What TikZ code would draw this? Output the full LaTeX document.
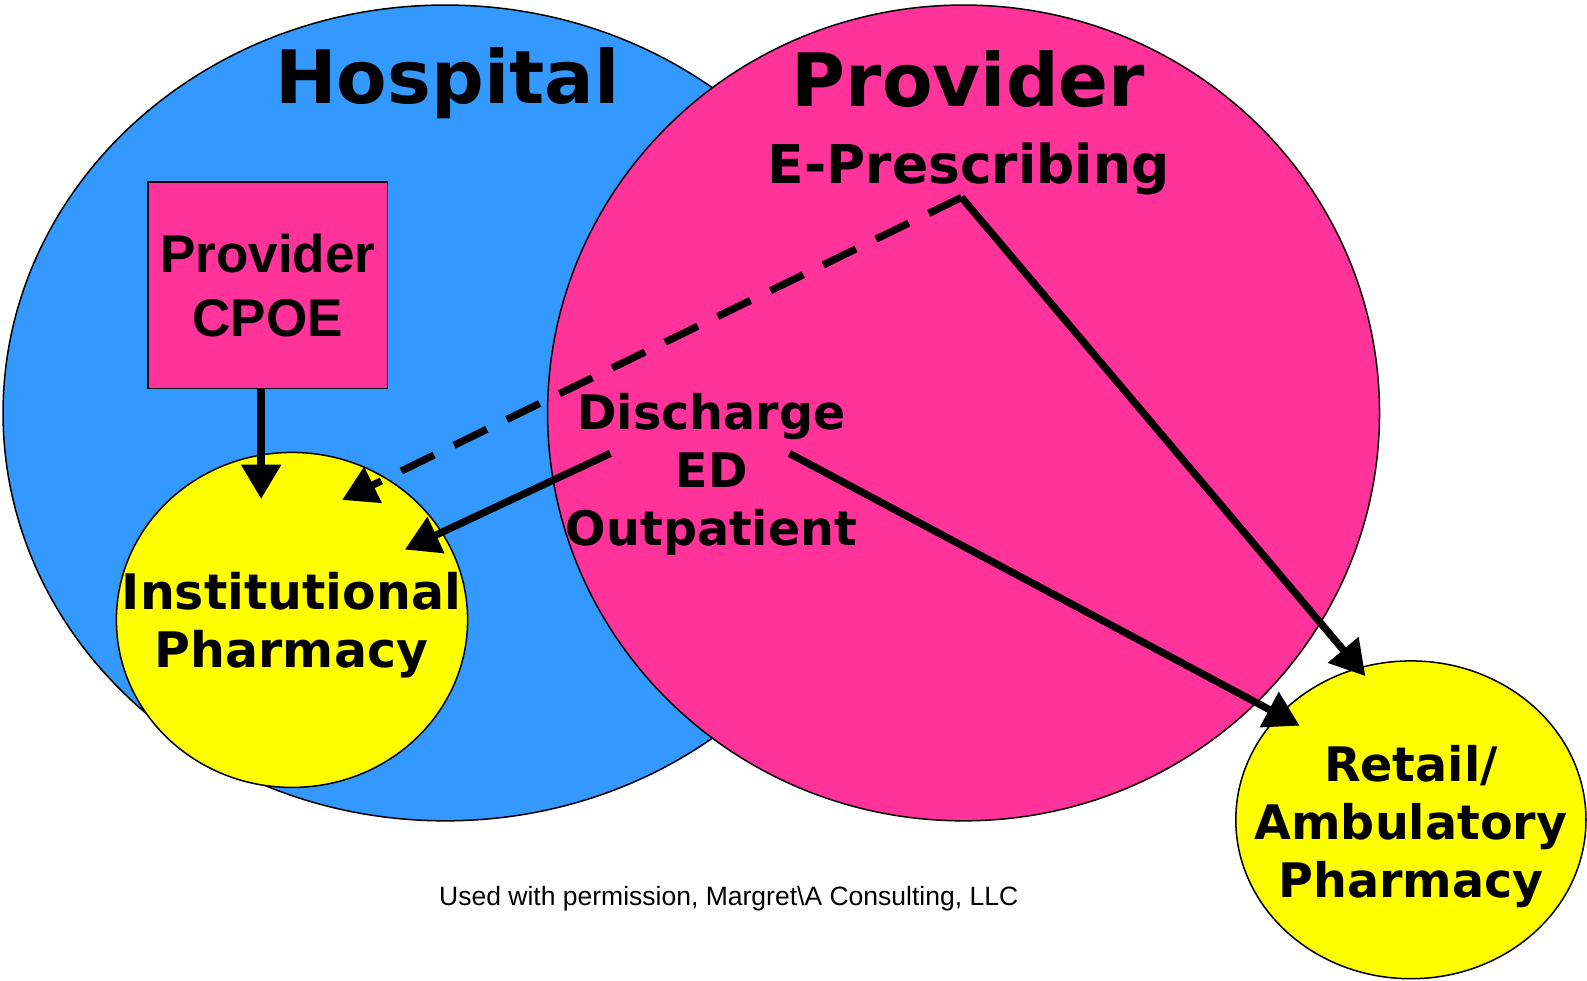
\documentclass[tikz,border=0pt]{standalone}
\usepackage{fontspec}
\setmainfont{DejaVu Sans}
\newfontfamily\arialfont{Liberation Sans}
\usepackage{xcolor}
\usetikzlibrary{shapes.geometric,arrows.meta}
\definecolor{hospblue}{HTML}{3399FF}
\definecolor{provpink}{HTML}{FF3399}
\definecolor{pharmyellow}{HTML}{FFFF00}
\tikzset{
  area/.style={ellipse, draw=black, line width=0.75pt, inner sep=0pt},
  flow/.style={line width=3.6pt, -{Triangle[length=17pt,width=19pt]}},
  title/.style={font=\bfseries\fontsize{36.4}{40}\selectfont},
  sub/.style={font=\bfseries\fontsize{26.4}{30}\selectfont},
  lab/.style={font=\bfseries\fontsize{23.5}{28.7}\selectfont, align=center},
  note/.style={font=\arialfont\fontsize{13.1}{15}\selectfont},
}

\begin{document}
\begin{tikzpicture}[x=0.5pt,y=-0.5pt]
  \useasboundingbox (0,0) rectangle (1568,968.3);

  % the two settings
  \node[area, fill=hospblue, minimum width=437pt, minimum height=403pt] (hosp) at (440,408) {};
  \node[area, fill=provpink, minimum width=411pt, minimum height=403pt] (prov) at (952,408) {};

  % order entry box and pharmacies
  \node[draw=black, line width=0.75pt, fill=provpink, minimum width=118.5pt, minimum height=102pt,
        align=center, font=\arialfont\bfseries\fontsize{26.2}{31.5}\selectfont] (cpoe) at (264.5,282) {Provider\\CPOE};
  \node[area, fill=pharmyellow, minimum width=173.5pt, minimum height=165.5pt] (inst) at (288.5,612.5) {};
  \node[area, fill=pharmyellow, minimum width=173pt, minimum height=157pt] (retail) at (1394,810) {};

  \node[title] (hosplab) at (442,82) {Hospital};
  \node[title] (provlab) at (957,78) {Provider};
  \node[sub] (erxlab) at (957,167) {E-Prescribing};
  \node[lab] (dc) at (703,469) {Discharge\\ED\\Outpatient};
  \node[lab, font=\bfseries\fontsize{24.2}{28.7}\selectfont] (instlab) at (288,618) {Institutional\\Pharmacy};
  \node[lab] (retaillab) at (1394,817) {Retail/\\Ambulatory\\Pharmacy};
  \node[note] (credit) at (720,888) {Used with permission, Margret\textbackslash A Consulting, LLC};

  \coordinate (erx) at (950,195);
  \coordinate (cpoetip) at (258,493);
  \coordinate (dashtip) at (338,494);
  \coordinate (dcleft) at (603,448);
  \coordinate (insttip) at (400,543);
  \coordinate (dcright) at (780,448);
  \coordinate (rettip) at (1284,717);
  \coordinate (rettop) at (1349,668);

  \draw[flow] (cpoe.south -| cpoetip) -- (cpoetip);
  \draw[flow, dash pattern=on 18pt off 11pt] (erx) -- (dashtip);
  \draw[flow] (dcleft) -- (insttip);
  \draw[flow] (erx) -- (rettop);
  \draw[flow] (dcright) -- (rettip);
\end{tikzpicture}
\end{document}
